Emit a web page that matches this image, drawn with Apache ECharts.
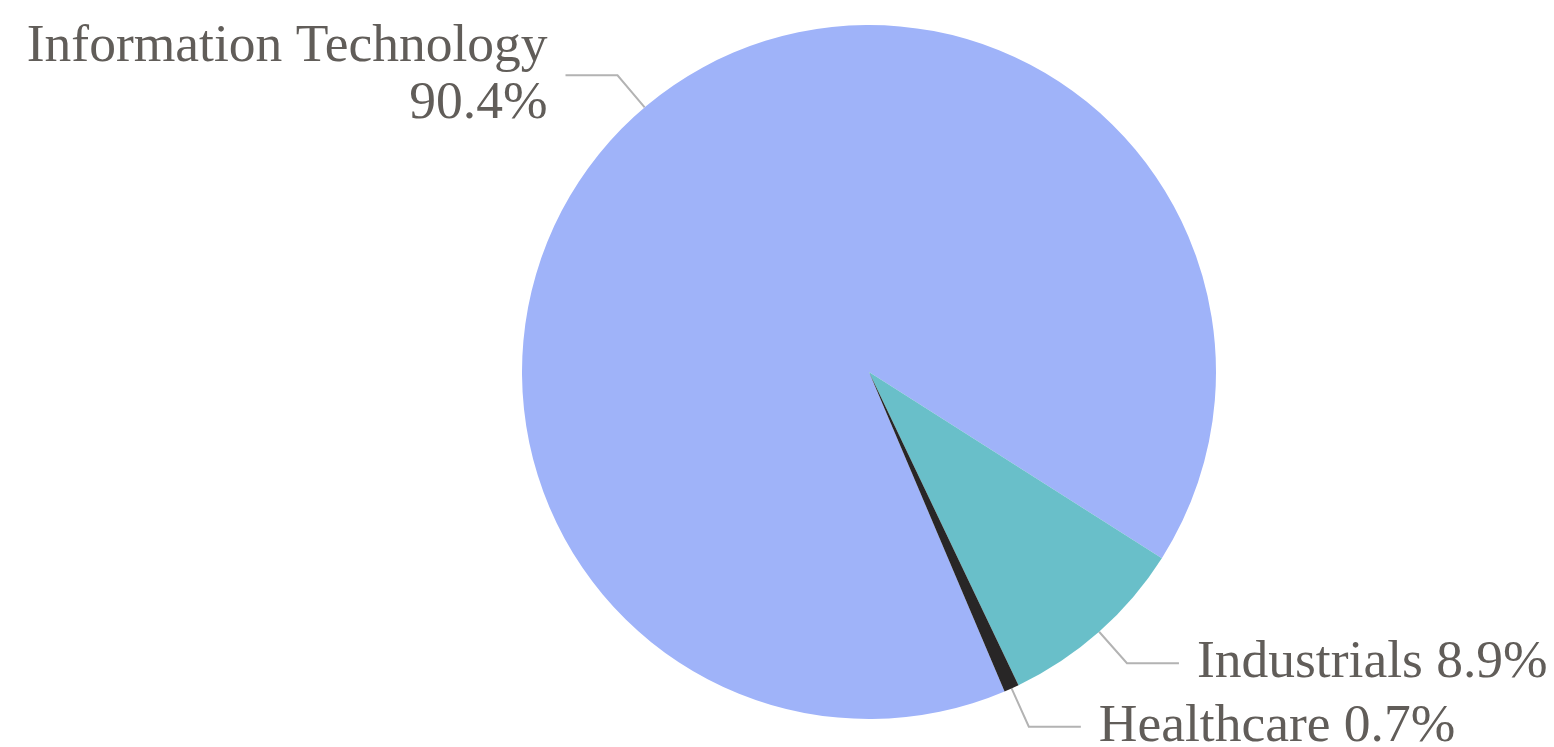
<!DOCTYPE html>
<html>
<head>
<meta charset="utf-8">
<script src="https://cdn.jsdelivr.net/npm/echarts@6/dist/echarts.min.js"></script>
<style>
html,body{margin:0;padding:0;background:#fff;}
#chart{width:1554px;height:747px;}
</style>
</head>
<body>
<div id="chart"></div>
<script>
const categories = ['Information Technology', 'Industrials', 'Healthcare'];
const values = [90.4, 8.9, 0.7];
const colors = ['#9fb3f9', '#69bfc9', '#282626'];

const chart = echarts.init(document.getElementById('chart'), null, {renderer: 'canvas'});
chart.setOption({
  animation: false,
  color: colors,
  series: [{
    type: 'pie',
    center: [869, 372],
    radius: 347,
    startAngle: -67,
    clockwise: true,
    avoidLabelOverlap: false,
    itemStyle: {borderWidth: 0},
    data: categories.map((c, i) => ({name: c, value: values[i]})),
    label: {
      show: true,
      fontFamily: "'Liberation Serif', 'Times New Roman', serif",
      fontSize: 53.5,
      lineHeight: 57,
      color: '#615d59',
      distanceToLabelLine: 18,
      formatter: p => p.dataIndex === 0 ? p.name + '\n' + p.value.toFixed(1) + '%' : p.name + ' ' + p.value.toFixed(1) + '%'
    },
    labelLine: {
      show: true,
      length: 42,
      length2: 52,
      lineStyle: {color: '#b3b3b3', width: 2}
    }
  }]
});
</script>
</body>
</html>
